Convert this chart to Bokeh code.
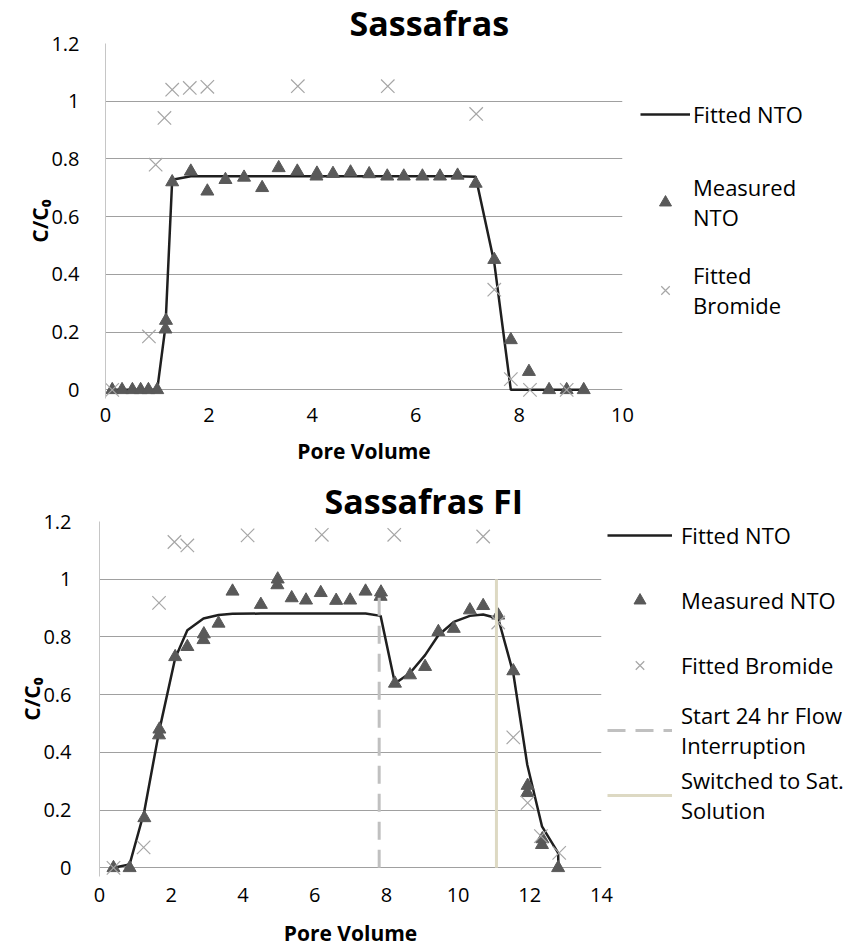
from bokeh.plotting import figure
from bokeh.models import Legend, LegendItem, Range1d, FixedTicker
from bokeh.embed import file_html
from bokeh.resources import INLINE

FONT = "Open Sans"

# ---------------- data: Sassafras (top) ----------------
top_title = "Sassafras"
top_meas_pv = [0.13, 0.32, 0.52, 0.68, 0.83, 1.00, 1.16, 1.17, 1.29, 1.65, 1.97, 2.32, 2.68, 3.03,
               3.35, 3.71, 4.08, 4.09, 4.40, 4.74, 5.10, 5.45, 5.77, 6.13, 6.47, 6.81, 7.16, 7.52,
               7.84, 8.19, 8.58, 8.92, 9.25]
top_meas_c = [0, 0, 0, 0, 0, 0, 0.21, 0.24, 0.72, 0.757, 0.688, 0.728, 0.736, 0.70,
              0.769, 0.757, 0.74, 0.75, 0.749, 0.754, 0.748, 0.74, 0.74, 0.74, 0.74, 0.743, 0.715, 0.451,
              0.173, 0.063, 0, 0, 0]
top_fit_pv = [0.13, 0.32, 0.52, 0.68, 0.83, 1.00, 1.16, 1.29, 1.65, 1.97, 2.32, 2.68, 3.03, 3.35,
              3.71, 4.08, 4.40, 4.74, 5.10, 5.45, 5.77, 6.13, 6.47, 6.81, 7.16, 7.52, 7.84, 8.19,
              8.58, 8.92, 9.25]
top_fit_c = [0, 0, 0, 0, 0, 0, 0.22, 0.728, 0.74, 0.74, 0.74, 0.74, 0.74, 0.74,
             0.74, 0.74, 0.74, 0.74, 0.74, 0.74, 0.74, 0.74, 0.74, 0.74, 0.738, 0.44, 0.0, 0,
             0, 0, 0]
top_br_pv = [0.13, 0.84, 0.97, 1.14, 1.29, 1.63, 1.97, 3.72, 5.46, 7.17, 7.52, 7.84, 8.21, 8.92]
top_br_c = [0, 0.185, 0.78, 0.942, 1.04, 1.046, 1.05, 1.052, 1.052, 0.956, 0.347, 0.037, 0, 0]
top_x_ticks = [0, 2, 4, 6, 8, 10]

# ---------------- data: Sassafras FI (bottom) ----------------
bot_title = "Sassafras FI"
bot_meas_pv = [0.39, 0.84, 1.25, 1.66, 1.67, 2.11, 2.45, 2.90, 2.91, 3.32, 3.71, 4.50, 4.96, 4.97,
               5.36, 5.76, 6.17, 6.60, 6.99, 7.42, 7.84, 7.85, 8.24, 8.66, 9.08, 9.45, 9.88, 10.33,
               10.70, 11.12, 11.54, 11.93, 11.94, 12.34, 12.35, 12.79]
bot_meas_c = [0, 0, 0.173, 0.46, 0.48, 0.731, 0.766, 0.79, 0.81, 0.847, 0.958, 0.912, 0.98, 1.0,
              0.935, 0.927, 0.953, 0.926, 0.927, 0.958, 0.94, 0.955, 0.639, 0.668, 0.697, 0.818, 0.829, 0.893,
              0.908, 0.875, 0.682, 0.26, 0.285, 0.08, 0.10, 0]
bot_fit_pv = [0.39, 0.84, 1.25, 1.66, 2.11, 2.45, 2.90, 3.32, 3.71, 4.50, 4.96, 5.36, 5.76, 6.17,
              6.60, 6.99, 7.42, 7.84, 8.24, 8.66, 9.08, 9.45, 9.88, 10.33, 10.70, 11.12, 11.54, 11.93,
              12.34, 12.79, 12.80]
bot_fit_c = [0.0, 0.012, 0.196, 0.472, 0.726, 0.823, 0.864, 0.876, 0.88, 0.881, 0.881, 0.881, 0.881, 0.881,
             0.881, 0.881, 0.881, 0.873, 0.639, 0.675, 0.737, 0.806, 0.852, 0.873, 0.878, 0.864, 0.674, 0.357,
             0.144, 0.052, 0.0]
bot_br_pv = [0.39, 1.23, 1.66, 2.09, 2.45, 4.13, 6.20, 8.22, 10.70, 11.12, 11.54, 11.94, 12.31, 12.82]
bot_br_c = [0.0, 0.071, 0.918, 1.129, 1.117, 1.152, 1.154, 1.154, 1.148, 0.85, 0.452, 0.225, 0.11, 0.052]
interrupt_pv = [7.8, 7.8]
interrupt_c = [0.0, 0.95]
switch_pv = [11.07, 11.07]
switch_c = [0.0, 1.0]
bot_x_ticks = [0, 2, 4, 6, 8, 10, 12, 14]

y_ticks = [0, 0.2, 0.4, 0.6, 0.8, 1, 1.2]
y_tick_labels = ["0", "0.2", "0.4", "0.6", "0.8", "1", "1.2"]

FIT_COLOR = "#1f1f1f"
MEAS_COLOR = "#595959"
BR_COLOR = "#a6a6a6"


def style(p, xticks, x_std, x_lab_std, y_std, title_offset, title_standoff):
    p.outline_line_color = None
    p.xgrid.visible = False
    p.ygrid.ticker = FixedTicker(ticks=y_ticks)
    p.ygrid.grid_line_color = "#a0a0a0"
    p.ygrid.grid_line_width = 1
    p.yaxis.ticker = FixedTicker(ticks=y_ticks)
    p.yaxis.major_label_overrides = dict(zip(y_ticks, y_tick_labels))
    p.xaxis.ticker = FixedTicker(ticks=xticks)
    for ax in p.axis:
        ax.major_tick_line_color = None
        ax.minor_tick_line_color = None
        ax.major_label_text_font = FONT
        ax.major_label_text_font_size = "20px"
        ax.major_label_text_color = "#000000"
        ax.axis_label_text_font = FONT
        ax.axis_label_text_font_size = "21px"
        ax.axis_label_text_font_style = "bold"
        ax.axis_label_text_color = "#000000"
    p.xaxis.axis_line_color = None
    p.yaxis.axis_line_color = "#c6c6c6"
    p.xaxis.axis_label = "Pore Volume"
    p.yaxis.axis_label = "C/C\u2080"
    p.xaxis.major_label_standoff = x_std
    p.xaxis.axis_label_standoff = x_lab_std
    p.yaxis.major_label_standoff = y_std
    p.yaxis.axis_label_standoff = -6
    p.title.text_font = FONT
    p.title.text_font_size = "34px"
    p.title.text_font_style = "bold"
    p.title.text_color = "#000000"
    p.title.align = "left"
    p.title.offset = title_offset
    p.title.standoff = title_standoff


def legend_style(leg, glyph_w, standoff, spacing):
    leg.border_line_color = None
    leg.background_fill_alpha = 0
    leg.label_text_font = FONT
    leg.label_text_font_size = "22px"
    leg.label_text_color = "#000000"
    leg.label_text_line_height = 1.4
    leg.glyph_width = glyph_w
    leg.glyph_height = 30
    leg.label_height = 62
    leg.label_standoff = standoff
    leg.padding = 0
    leg.margin = 0
    leg.spacing = spacing


# ---------------- top figure ----------------
p1 = figure(frame_width=517, frame_height=355, title=top_title,
            x_range=Range1d(0, 10), y_range=Range1d(-0.03, 1.2),
            output_backend="svg", toolbar_location=None,
            min_border_left=105, min_border_right=0, min_border_top=0, min_border_bottom=80)
style(p1, top_x_ticks, 3, 12, 20, 244, -5)
r1_fit = p1.line(top_fit_pv, top_fit_c, line_color=FIT_COLOR, line_width=2.5)
r1_meas = p1.scatter(top_meas_pv, top_meas_c, marker="triangle", size=13,
                     fill_color=MEAS_COLOR, line_color=MEAS_COLOR)
r1_br = p1.scatter(top_br_pv, top_br_c, marker="x", size=19, line_color=BR_COLOR, line_width=1.2)
leg1 = Legend(items=[LegendItem(label="Fitted NTO", renderers=[r1_fit]),
                     LegendItem(label="Measured\nNTO", renderers=[r1_meas]),
                     LegendItem(label="Fitted\nBromide", renderers=[r1_br])],
              location=(18, 77))
legend_style(leg1, 50, 3, 26)
p1.add_layout(leg1, "right")

# ---------------- bottom figure ----------------
p2 = figure(frame_width=502, frame_height=355, title=bot_title,
            x_range=Range1d(0, 14), y_range=Range1d(-0.03, 1.2),
            output_backend="svg", toolbar_location=None,
            min_border_left=99, min_border_right=0, min_border_top=0, min_border_bottom=71)
style(p2, bot_x_ticks, 5, 14, 22, 225, -5)
r2_fit = p2.line(bot_fit_pv, bot_fit_c, line_color=FIT_COLOR, line_width=2.5)
r2_meas = p2.scatter(bot_meas_pv, bot_meas_c, marker="triangle", size=13,
                     fill_color=MEAS_COLOR, line_color=MEAS_COLOR)
r2_br = p2.scatter(bot_br_pv, bot_br_c, marker="x", size=19, line_color=BR_COLOR, line_width=1.2)
r2_int = p2.line(interrupt_pv, interrupt_c, line_color="#c0c0c0", line_width=3, line_dash="18 10")
r2_sw = p2.line(switch_pv, switch_c, line_color="#ddd9c3", line_width=3)
leg2 = Legend(items=[LegendItem(label="Fitted NTO", renderers=[r2_fit]),
                     LegendItem(label="Measured NTO", renderers=[r2_meas]),
                     LegendItem(label="Fitted Bromide", renderers=[r2_br]),
                     LegendItem(label="Start 24 hr Flow\nInterruption", renderers=[r2_int]),
                     LegendItem(label="Switched to Sat.\nSolution", renderers=[r2_sw])],
              location=(6, 50))
legend_style(leg2, 65, 9, 3)
p2.add_layout(leg2, "right")

open("out.html", "w").write(file_html([p1, p2], INLINE))
